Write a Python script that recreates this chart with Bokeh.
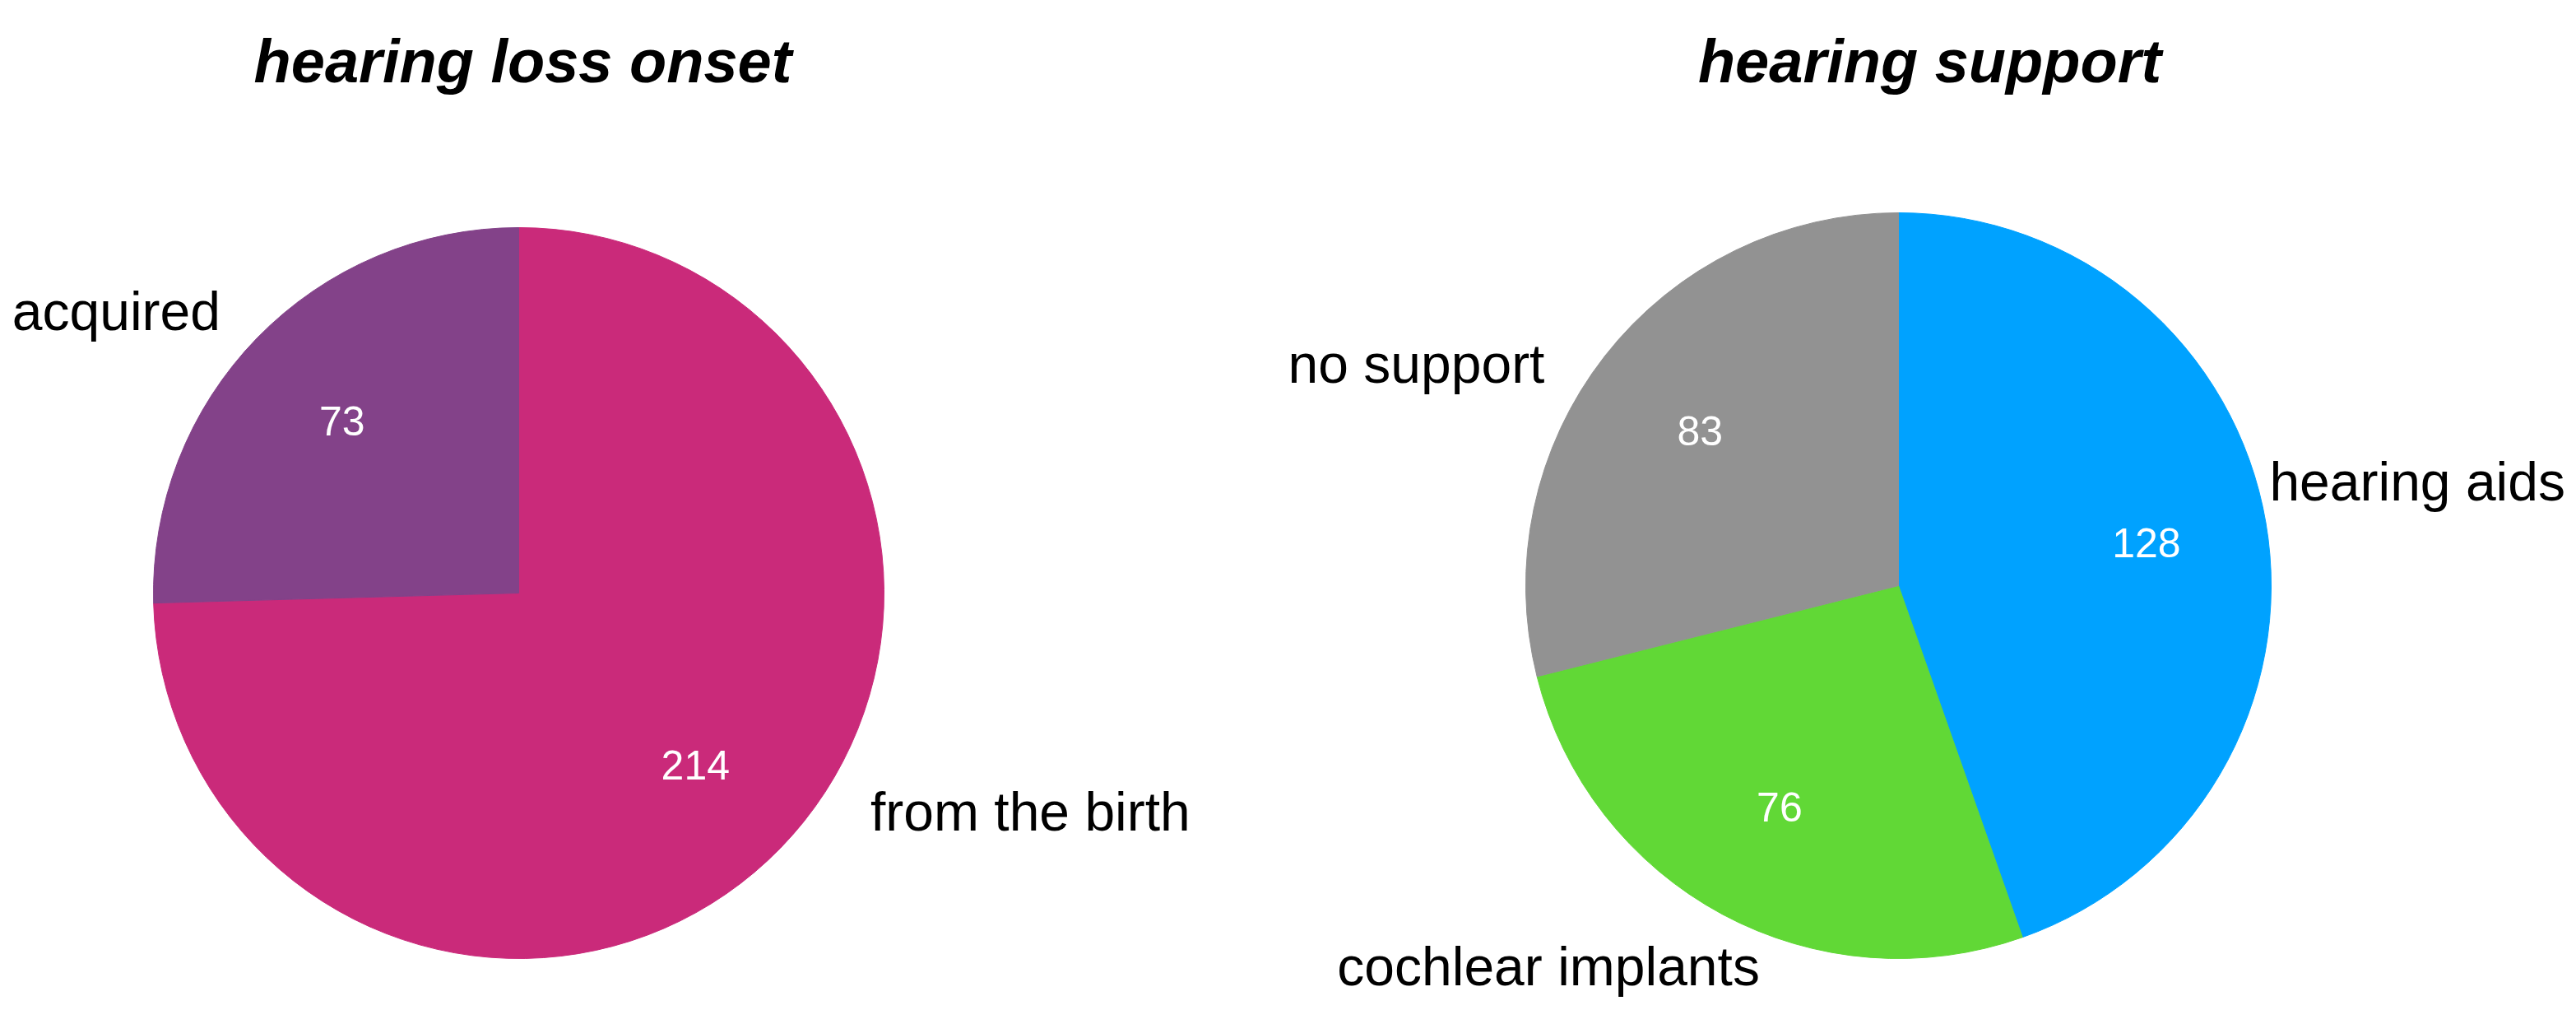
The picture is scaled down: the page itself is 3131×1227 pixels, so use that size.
import math
from bokeh.plotting import figure
from bokeh.models import ColumnDataSource, Range1d
from bokeh.core.properties import value
from bokeh.embed import file_html
from bokeh.resources import INLINE

# ---------------- data ----------------
titles = ["hearing loss onset", "hearing support"]

onset_labels = ["from the birth", "acquired"]
onset_values = [214, 73]
onset_colors = ["#CA2A7A", "#834289"]

support_labels = ["hearing aids", "cochlear implants", "no support"]
support_values = [128, 76, 83]
support_colors = ["#00A2FF", "#61D836", "#929292"]

# ---------------- layout (screen-pixel geometry) ----------------
W, H = 3123, 1219
SCREEN_H = 1227


def Y(sy):
    return SCREEN_H - sy


pies = [
    dict(title=titles[0], labels=onset_labels, values=onset_values, colors=onset_colors,
         cx=630, cy=Y(720), r=444, title_x=635,
         label_k=[1.133, 1.124], label_nudge=[12.4, 0.8]),
    dict(title=titles[1], labels=support_labels, values=support_values, colors=support_colors,
         cx=2307, cy=Y(711), r=453, title_x=2345,
         label_k=[1.034, 1.087, 1.12], label_nudge=[6.0, 8.2, 5.9]),
]

p = figure(width=W, height=H, output_backend="svg", toolbar_location=None,
           x_range=Range1d(0, W), y_range=Range1d(SCREEN_H - H, SCREEN_H),
           x_axis_location=None, y_axis_location=None, min_border=0,
           background_fill_color="white", border_fill_color="white")
p.grid.visible = False
p.outline_line_color = None

FONT = "Liberation Sans"

for pie in pies:
    vals = pie["values"]
    total = float(sum(vals))
    starts, ends, mids = [], [], []
    cum = 0.0
    for v in vals:
        a0 = math.pi / 2 - 2 * math.pi * cum / total
        cum += v
        a1 = math.pi / 2 - 2 * math.pi * cum / total
        starts.append(a0)
        ends.append(a1)
        mids.append((a0 + a1) / 2)

    n = len(vals)
    src = ColumnDataSource(dict(
        x=[pie["cx"]] * n, y=[pie["cy"]] * n, r=[pie["r"]] * n,
        start=starts, end=ends, color=pie["colors"],
    ))
    p.wedge(x="x", y="y", radius="r", start_angle="start", end_angle="end",
            direction="clock", fill_color="color", line_color="color", line_width=1,
            source=src)

    # value labels inside
    vx = [pie["cx"] + 0.675 * pie["r"] * math.cos(m) for m in mids]
    vy = [pie["cy"] + 0.675 * pie["r"] * math.sin(m) for m in mids]
    p.text(x=vx, y=vy, text=[str(v) for v in vals], text_color="white",
           text_font=value(FONT), text_font_size="50px",
           text_align="center", text_baseline="middle")

    # category labels outside
    lx, ly, al = [], [], []
    for m, k, nd in zip(mids, pie["label_k"], pie["label_nudge"]):
        a = m + math.radians(nd)
        lx.append(pie["cx"] + k * pie["r"] * math.cos(a))
        ly.append(pie["cy"] + k * pie["r"] * math.sin(a))
        al.append("left" if math.cos(a) > 0 else "right")
    lsrc = ColumnDataSource(dict(x=lx, y=ly, text=pie["labels"], align=al))
    p.text(x="x", y="y", text="text", text_align="align", source=lsrc,
           text_color="black", text_font=value(FONT), text_font_size="66px",
           text_baseline="middle")

    # title
    p.text(x=[pie["title_x"]], y=[Y(74)], text=[pie["title"]], text_color="black",
           text_font=value(FONT), text_font_size="74px", text_font_style="bold italic",
           text_align="center", text_baseline="alphabetic")

open("out.html", "w").write(file_html(p, INLINE))
